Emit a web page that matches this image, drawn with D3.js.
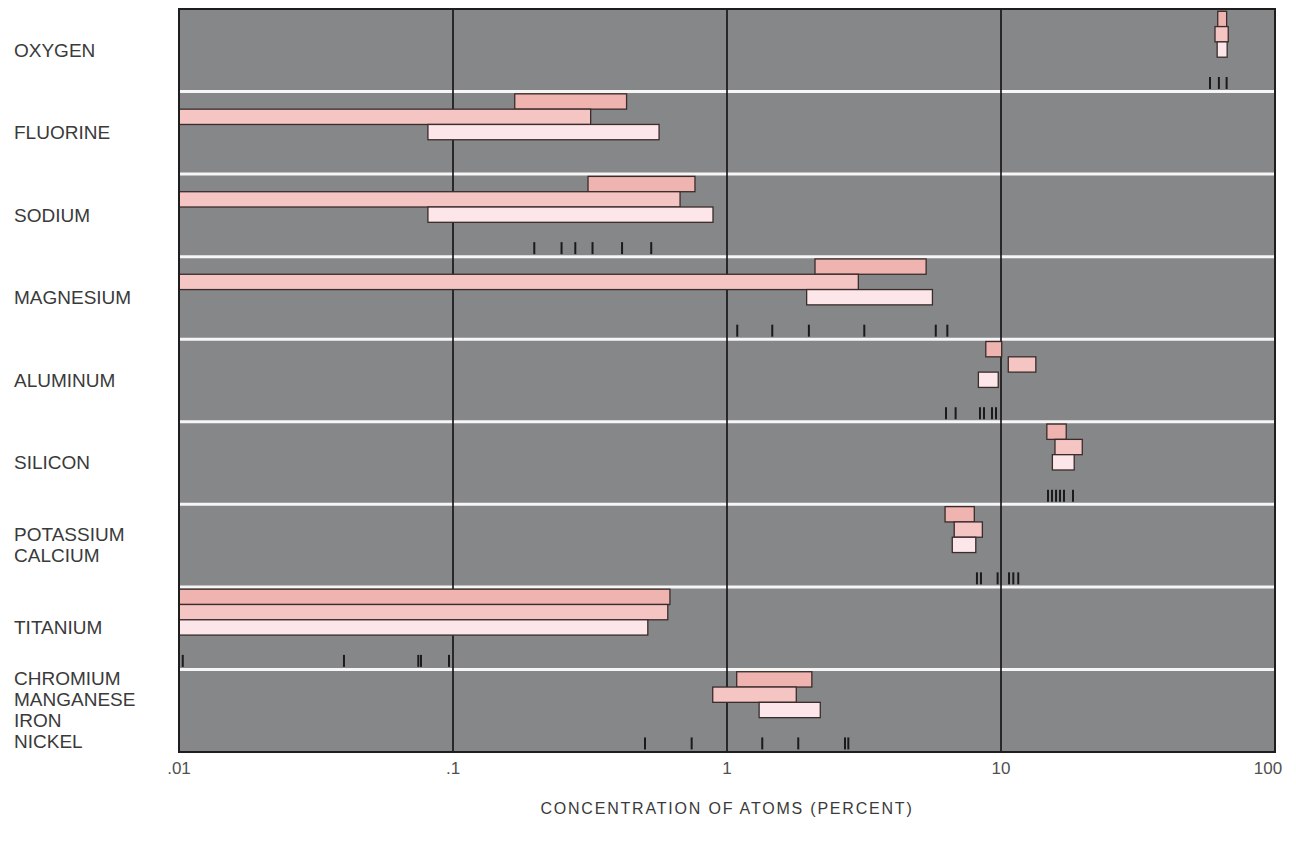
<!DOCTYPE html>
<html>
<head>
<meta charset="utf-8">
<script src="https://cdn.jsdelivr.net/npm/d3@7"></script>
<style>
body { margin: 0; background: #fff; }
text { font-family: "Liberation Sans", Arial, sans-serif; fill: #333; }
</style>
</head>
<body>
<script>
// rows, top to bottom
var rowLabels = [["OXYGEN"], ["FLUORINE"], ["SODIUM"], ["MAGNESIUM"], ["ALUMINUM"], ["SILICON"],
                 ["POTASSIUM", "CALCIUM"], ["TITANIUM"], ["CHROMIUM", "MANGANESE", "IRON", "NICKEL"]];
// three ranges per row [low, high] (percent); 0.001 runs off the left edge
var rangesA = [[61.8, 66.6], [0.168, 0.43], [0.311, 0.764], [2.095, 5.33], [8.8, 10.06],
               [14.7, 17.3], [6.25, 7.99], [0.001, 0.619], [1.085, 2.04]];
var rangesB = [[60.4, 67.5], [0.001, 0.318], [0.001, 0.674], [0.001, 3.015], [10.63, 13.4],
               [15.74, 19.8], [6.75, 8.55], [0.001, 0.608], [0.887, 1.79]];
var rangesC = [[61.5, 66.9], [0.081, 0.565], [0.081, 0.889], [1.953, 5.62], [8.27, 9.77],
               [15.4, 18.5], [6.64, 8.09], [0.001, 0.514], [1.31, 2.19]];
// single measurements, drawn as short ticks
var marks = [[57.9, 62.4, 66.6], [], [0.198, 0.249, 0.2795, 0.323, 0.414, 0.529],
             [1.09, 1.463, 1.99, 3.17, 5.78, 6.37], [6.3, 6.83, 8.38, 8.67, 9.27, 9.59],
             [14.84, 15.35, 15.88, 16.42, 16.98, 18.31], [8.17, 8.45, 9.72, 10.7, 11.09, 11.56],
             [0.01032, 0.04, 0.0747, 0.0764, 0.0967], [0.502, 0.743, 1.345, 1.82, 2.696, 2.772]];
var tickValues = [0.01, 0.1, 1, 10, 100];
var tickLabels = [".01", ".1", "1", "10", "100"];
var axisTitle = "CONCENTRATION OF ATOMS (PERCENT)";

var seriesColors = ["#efb3b0", "#f4c5c3", "#fce6e9"];

var margin = {top: 9, right: 21, bottom: 97, left: 179},
    width = 1296 - margin.left - margin.right,
    height = 849 - margin.top - margin.bottom;

var svg = d3.select("body").append("svg")
  .attr("width", 1296)
  .attr("height", 849);

var g = svg.append("g")
  .attr("transform", "translate(" + margin.left + "," + margin.top + ")");

var x = d3.scaleLog().domain([0.01, 100]).range([0, width]).clamp(true);
var y = d3.scaleBand().domain(d3.range(rowLabels.length)).range([0, height]);
var barH = 15.3;

// background
g.append("rect")
  .attr("width", width)
  .attr("height", height)
  .attr("fill", "#868788");

// white row separators
g.selectAll(".sep")
  .data(d3.range(1, rowLabels.length))
  .enter().append("line")
  .attr("x1", 0).attr("x2", width)
  .attr("y1", function(d) { return y(d); })
  .attr("y2", function(d) { return y(d); })
  .attr("stroke", "#f6f6f6")
  .attr("stroke-width", 3);

// decade lines
g.selectAll(".decade")
  .data(tickValues.slice(1, -1))
  .enter().append("line")
  .attr("x1", function(d) { return x(d); })
  .attr("x2", function(d) { return x(d); })
  .attr("y1", 0).attr("y2", height)
  .attr("stroke", "#111")
  .attr("stroke-width", 1.6);

// bars
[rangesA, rangesB, rangesC].forEach(function(ranges, k) {
  g.selectAll(".bar" + k)
    .data(ranges)
    .enter().append("rect")
    .attr("class", "bar" + k)
    .attr("x", function(d) { return x(d[0]); })
    .attr("width", function(d) { return x(d[1]) - x(d[0]); })
    .attr("y", function(d, i) { return y(i) + 2.3 + k * barH; })
    .attr("height", barH)
    .attr("fill", seriesColors[k])
    .attr("stroke", "#3a2c2c")
    .attr("stroke-width", 1.3);
});

// point measurements
var markData = [];
marks.forEach(function(list, i) {
  list.forEach(function(v) { markData.push({row: i, v: v}); });
});
g.selectAll(".mark")
  .data(markData)
  .enter().append("line")
  .attr("x1", function(d) { return x(d.v); })
  .attr("x2", function(d) { return x(d.v); })
  .attr("y1", function(d) { return y(d.row) + 68; })
  .attr("y2", function(d) { return y(d.row) + 80; })
  .attr("stroke", "#1a1a1a")
  .attr("stroke-width", 2);

// frame
g.append("rect")
  .attr("width", width)
  .attr("height", height)
  .attr("fill", "none")
  .attr("stroke", "#1e1e1e")
  .attr("stroke-width", 2);

// row labels
rowLabels.forEach(function(lines, i) {
  var mid = margin.top + y(i) + 41;
  lines.forEach(function(t, j) {
    svg.append("text")
      .attr("x", 14)
      .attr("y", mid + (j - (lines.length - 1) / 2) * 21)
      .attr("dominant-baseline", "central")
      .style("font-size", "19px")
      .style("fill", "#3a3a3a")
      .text(t);
  });
});

// x axis labels
svg.selectAll(".xlab")
  .data(tickValues)
  .enter().append("text")
  .attr("x", function(d, i) { return margin.left + x(d) + (i === tickValues.length - 1 ? -7 : 0); })
  .attr("y", 768)
  .attr("dominant-baseline", "central")
  .attr("text-anchor", "middle")
  .style("font-size", "17px")
  .style("fill", "#505050")
  .text(function(d, i) { return tickLabels[i]; });

svg.append("text")
  .attr("x", margin.left + x(1))
  .attr("y", 808)
  .attr("dominant-baseline", "central")
  .attr("text-anchor", "middle")
  .style("font-size", "16px")
  .style("letter-spacing", "1.8px")
  .style("fill", "#3a3a3a")
  .text(axisTitle);
</script>
</body>
</html>
